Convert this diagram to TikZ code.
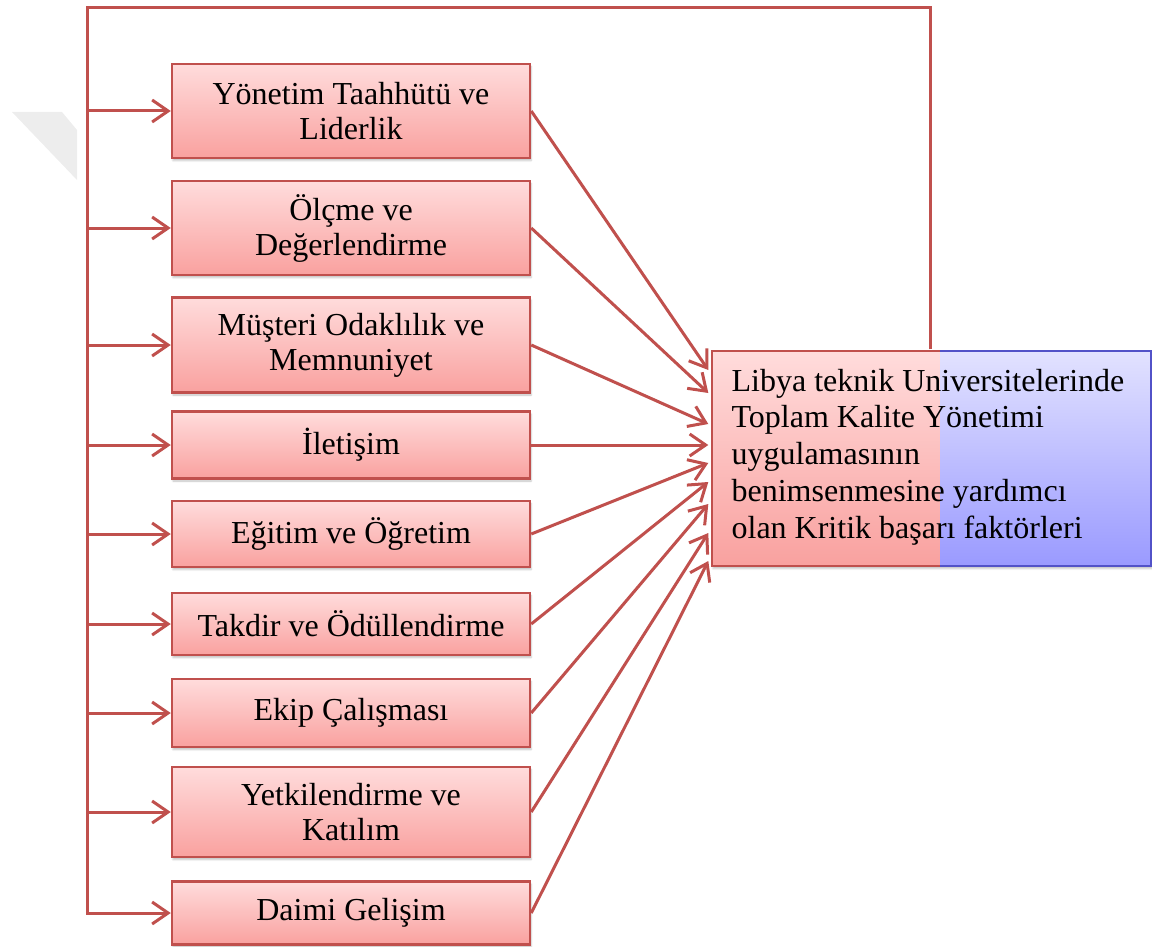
\documentclass[tikz,border=0pt]{standalone}
\usepackage{fontspec}
\setmainfont{Liberation Serif}
\usetikzlibrary{arrows.meta,shadows.blur}
\definecolor{linkred}{HTML}{C0504D}
\definecolor{pinktop}{HTML}{FFDCDC}
\definecolor{pinkbot}{HTML}{F9A19F}
\definecolor{bluetop}{HTML}{E2E2FF}
\definecolor{bluebot}{HTML}{9A9AFF}
\definecolor{blueline}{HTML}{5252C8}
\tikzset{
  softshadow/.style={blur shadow={shadow xshift=1pt, shadow yshift=-2.5pt, shadow opacity=25, shadow blur steps=4}},
  factor/.style={draw=linkred, line width=2.5pt, top color=pinktop, bottom color=pinkbot,
    minimum width=358pt, inner sep=0pt, align=center,
    font=\fontsize{32}{35}\selectfont, softshadow},
  link/.style={draw=linkred, line width=3pt, line join=miter,
    -{Straight Barb[length=16pt,width=22pt]}},
}
\begin{document}
\begin{tikzpicture}[x=1pt,y=-1pt]
\useasboundingbox (0,0) rectangle (1152,947);

% faint mark in the upper left corner
\fill[black!7] (12,112) -- (62,112) -- (77,130) -- (77,180) -- cycle;

% the target box: pink half and blue half
\path[softshadow] (712,351) rectangle (1151,566);
\shade[top color=pinktop, bottom color=pinkbot] (712,351) rectangle (940,566);
\shade[top color=bluetop, bottom color=bluebot] (940,351) rectangle (1151,566);
\draw[linkred, line width=2.5pt] (940,351) -- (712,351) -- (712,566) -- (940,566);
\draw[blueline, line width=2.5pt] (940,351) -- (1151,351) -- (1151,566) -- (940,566);
\node (goal) [minimum width=439pt, minimum height=215pt, inner sep=0pt,
  align=left, font=\fontsize{32}{36.7}\selectfont] at (928,457)
  {Libya teknik Universitelerinde\\Toplam Kalite Yönetimi\\uygulamasının\\benimsenmesine yardımcı\\olan Kritik başarı faktörleri};

% the factor boxes
\node[factor, minimum height=94pt] (b1) at (351,111) {Yönetim Taahhütü ve\\Liderlik};
\node[factor, minimum height=94pt] (b2) at (351,228) {Ölçme ve\\Değerlendirme};
\node[factor, minimum height=95pt] (b3) at (351,345) {Müşteri Odaklılık ve\\Memnuniyet};
\node[factor, minimum height=67pt] (b4) at (351,445) {İletişim};
\node[factor, minimum height=66pt] (b5) at (351,534) {Eğitim ve Öğretim};
\node[factor, minimum height=62pt] (b6) at (351,624) {Takdir ve Ödüllendirme};
\node[factor, minimum height=68pt] (b7) at (351,713) {Ekip Çalışması};
\node[factor, minimum height=90pt] (b8) at (351,812) {Yetkilendirme ve\\Katılım};
\node[factor, minimum height=63pt] (b9) at (351,913) {Daimi Gelişim};

% each factor feeds the target box
\draw[link] (b1.east) -- (goal.west |- 0,370);
\draw[link] (b2.east) -- (goal.west |- 0,393);
\draw[link] (b3.east) -- (goal.west |- 0,424);
\draw[link] (b4.east) -- (goal.west |- b4.east);
\draw[link] (b5.east) -- (goal.west |- 0,463);
\draw[link] (b6.east) -- (goal.west |- 0,482);
\draw[link] (b7.east) -- (goal.west |- 0,504);
\draw[link] (b8.east) -- (goal.west |- 0,533);
\draw[link] (b9.east) -- (goal.west |- 0,561);

% feedback loop from the target back to every factor
\draw[link] (goal.north -| 930,0) -- (930,8) -- (87,8) -- (b9.west -| 87,0) -- (b9.west);
\foreach \b in {b1,b2,b3,b4,b5,b6,b7,b8}
  \draw[link] (\b.west -| 87,0) -- (\b.west);
\end{tikzpicture}
\end{document}
